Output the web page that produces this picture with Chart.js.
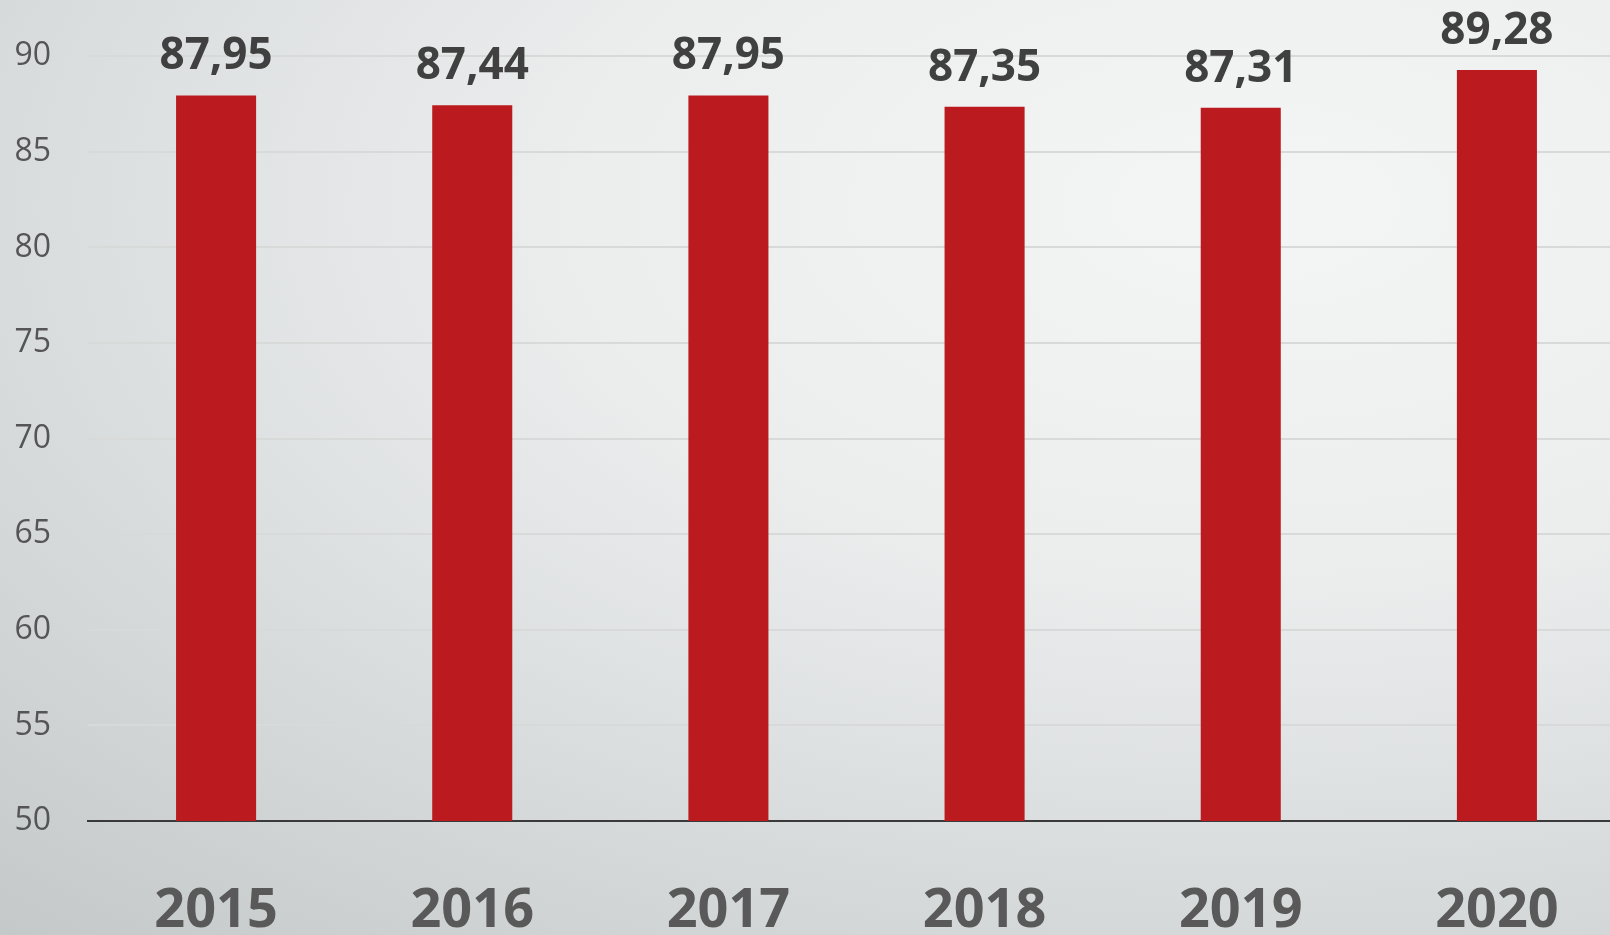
<!DOCTYPE html>
<html>
<head>
<meta charset="utf-8">
<script src="https://cdn.jsdelivr.net/npm/chart.js@4/dist/chart.umd.min.js"></script>
<style>
  html, body {
    margin: 0;
    padding: 0;
    width: 1610px;
    height: 935px;
    overflow: hidden;
  }
  body {
    background: radial-gradient(ellipse 120% 110% at 78% 22%, #f4f5f5 0%, #eceeee 35%, #d9dcdd 65%, #c1c6c7 100%);
  }
  #wrap {
    position: absolute;
    left: 0;
    top: 0;
    width: 1625px;
    height: 935px;
  }
</style>
</head>
<body>
<div id="wrap"><canvas id="barChart"></canvas></div>
<script>
// Données du graphique
const years = ["2015", "2016", "2017", "2018", "2019", "2020"];
const values = [87.95, 87.44, 87.95, 87.35, 87.31, 89.28];
const yMin = 50;
const yMax = 90;
const yStep = 5;

// étiquettes au-dessus des barres
const valueLabels = {
    id: "valueLabels",
    afterDatasetsDraw(chart) {
        const ctx = chart.ctx;
        const meta = chart.getDatasetMeta(0);
        ctx.save();
        ctx.font = "bold 44px 'Open Sans'";
        ctx.fillStyle = "#404040";
        ctx.textAlign = "center";
        ctx.textBaseline = "alphabetic";
        meta.data.forEach((bar, i) => {
            const txt = values[i].toFixed(2).replace(".", ",");
            ctx.fillText(txt, bar.x, bar.y - 26);
        });
        ctx.restore();
    }
};

new Chart("barChart", {
    type: "bar",
    data: {
        labels: years,
        datasets: [{
            data: values,
            backgroundColor: "#bb1b1e",
            borderWidth: 0,
            categoryPercentage: 1,
            barPercentage: 0.3125
        }]
    },
    options: {
        responsive: true,
        maintainAspectRatio: false,
        animation: false,
        layout: {
            padding: { top: 56, right: 0, left: 0, bottom: 0 }
        },
        scales: {
            x: {
                grid: {
                    display: false
                },
                border: {
                    display: true,
                    color: "#3a3a3a",
                    width: 2
                },
                ticks: {
                    color: "#595959",
                    font: { family: "'Open Sans'", size: 54, weight: "bold" },
                    padding: 50
                },
                afterFit(scale) {
                    scale.height = 114;
                }
            },
            y: {
                min: yMin,
                max: yMax,
                grid: {
                    color: "#d8dada",
                    lineWidth: 2,
                    drawTicks: false
                },
                border: {
                    display: false
                },
                ticks: {
                    stepSize: yStep,
                    color: "#555555",
                    font: { family: "'Open Sans'", size: 32 },
                    padding: 37
                },
                afterFit(scale) {
                    scale.width = 88;
                }
            }
        },
        plugins: {
            legend: {
                display: false
            },
            tooltip: {
                enabled: false
            }
        }
    },
    plugins: [valueLabels]
});
</script>
</body>
</html>
